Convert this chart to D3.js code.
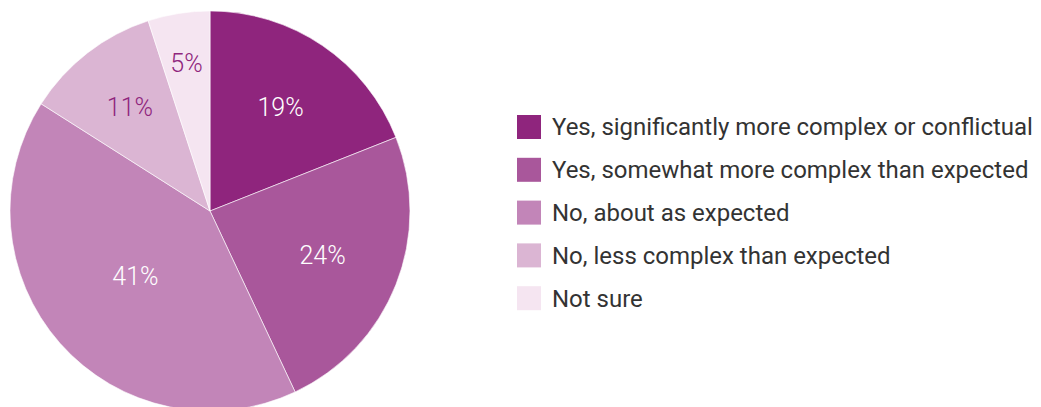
<!DOCTYPE html>
<html>
<head>
<meta charset="utf-8">
<script src="https://cdn.jsdelivr.net/npm/d3@7"></script>
<style>
  body { margin: 0; background: #fff; }
  text { font-family: Roboto, "DejaVu Sans", sans-serif; }
</style>
</head>
<body>
<svg id="chart"></svg>
<script>
//data
const categories = [
    "Yes, significantly more complex or conflictual",
    "Yes, somewhat more complex than expected",
    "No, about as expected",
    "No, less complex than expected",
    "Not sure"
];
const values = [19, 24, 41, 11, 5];
const colors = ["#8f257d", "#a9579b", "#c285b8", "#dbb5d3", "#f5e5f1"];
const labelColors = ["#ffffff", "#ffffff", "#ffffff", "#8f257d", "#8f257d"];

//constants
const W = 1041, H = 407;
const cx = 210, cy = 211, radius = 200;

const svg = d3.select("#chart")
    .attr("width", W)
    .attr("height", H);

const pie = d3.pie().sort(null).value(d => d)(values);
const arc = d3.arc().innerRadius(0).outerRadius(radius);

const g = svg.append("g")
    .attr("transform", "translate(" + cx + "," + cy + ")");

g.selectAll("path")
    .data(pie)
    .enter()
    .append("path")
    .attr("d", arc)
    .attr("fill", (d, i) => colors[i])
    .attr("stroke", "#fff")
    .attr("stroke-width", 0.6);

//labels at the area centroid of each slice
function labelPos(d) {
    const half = (d.endAngle - d.startAngle) / 2;
    const mid = d.startAngle + half;
    let r = (2 / 3) * radius * Math.sin(half) / half;
    if (d.value < 8) r = 0.75 * radius;
    return [r * Math.sin(mid), -r * Math.cos(mid)];
}

g.selectAll(".lbl")
    .data(pie)
    .enter()
    .append("text")
    .attr("class", "lbl")
    .attr("x", d => labelPos(d)[0])
    .attr("y", d => labelPos(d)[1])
    .attr("dy", "0.35em")
    .attr("text-anchor", "middle")
    .style("font-size", "25px")
    .style("font-weight", 300)
    .attr("fill", (d, i) => labelColors[i])
    .text(d => d.value + "%");

//legend
const legend = svg.append("g")
    .attr("transform", "translate(517,115)");

const rows = legend.selectAll(".row")
    .data(categories)
    .enter()
    .append("g")
    .attr("class", "row")
    .attr("transform", (d, i) => "translate(0," + (i * 42.8) + ")");

rows.append("rect")
    .attr("width", 24)
    .attr("height", 24)
    .attr("fill", (d, i) => colors[i]);

rows.append("text")
    .attr("x", 35)
    .attr("y", 12)
    .attr("dy", "0.35em")
    .style("font-size", "22px")
    .attr("fill", "#333")
    .text(d => d);

//fit the longest label to the reference width
const longest = rows.select("text").nodes()[0];
const scale = 481 / longest.getComputedTextLength();
rows.selectAll("text").style("font-size", (22 * scale).toFixed(2) + "px");
</script>
</body>
</html>
